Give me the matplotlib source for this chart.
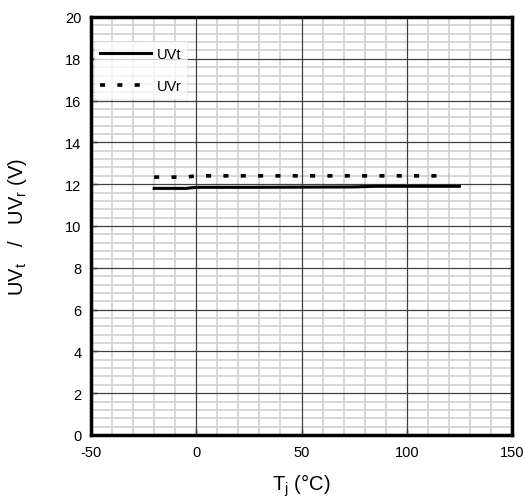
import matplotlib
matplotlib.use('Agg')
import matplotlib.pyplot as plt
from matplotlib.ticker import MultipleLocator

plt.rcParams['font.family'] = ['Liberation Sans', 'DejaVu Sans']
plt.rcParams['axes.unicode_minus'] = False

# junction temperature (deg C)
temp_uvt = [-20, -5, 0, 25, 50, 75, 85, 100, 125]
uvt = [11.80, 11.80, 11.85, 11.85, 11.86, 11.87, 11.90, 11.90, 11.90]

temp_uvr = [-20, -5, 0, 25, 50, 75, 100, 120]
uvr = [12.34, 12.34, 12.40, 12.40, 12.40, 12.40, 12.40, 12.40]

x_major = [-50, 0, 50, 100, 150]
y_major = [0, 2, 4, 6, 8, 10, 12, 14, 16, 18, 20]

fig = plt.figure(figsize=(5.25, 5.02), dpi=100)
ax = fig.add_axes([91/525, 1 - 436/502, (512 - 91)/525, (436 - 18)/502])

ax.plot(temp_uvt, uvt, color='black', lw=2.2, label='UVt', zorder=3)
ax.plot(temp_uvr, uvr, color='black', lw=2.6, linestyle=(0, (1.4, 3.4)),
        label='UVr', zorder=3)

ax.set_xlim(-50, 150)
ax.set_ylim(0, 20)
ax.set_xticks(x_major)
ax.set_yticks(y_major)
ax.xaxis.set_minor_locator(MultipleLocator(10))
ax.yaxis.set_minor_locator(MultipleLocator(0.4))

# light minor grid below, darker major lines on top of it
ax.grid(which='minor', color='#d4d4d4', lw=1.3)
ax.set_axisbelow(True)
for xv in x_major:
    ax.axvline(xv, color='#404040', lw=0.9, zorder=1)
for yv in y_major:
    ax.axhline(yv, color='#404040', lw=0.9, zorder=1)

for s in ax.spines.values():
    s.set_linewidth(2.5)
    s.set_color('black')

ax.tick_params(which='major', direction='in', length=4, width=1, labelsize=10.5, pad=7)
ax.tick_params(which='minor', length=0)

ax.set_xlabel('T$_\\mathregular{j}$ (°C)', fontsize=14.5, labelpad=9)
ax.set_ylabel('UV$_\\mathregular{t}$   /   UV$_\\mathregular{r}$ (V)', fontsize=14.5, labelpad=26)

leg = ax.legend(loc='upper left', bbox_to_anchor=(0.0, 0.95), fontsize=10.5,
                handlelength=3.5, handletextpad=0.4, labelspacing=1.25,
                borderaxespad=0.2, fancybox=False, framealpha=0.75,
                edgecolor='#cccccc')
leg.get_frame().set_linestyle(':')
leg.get_frame().set_linewidth(0.8)

fig.savefig('out.png', dpi=100)
